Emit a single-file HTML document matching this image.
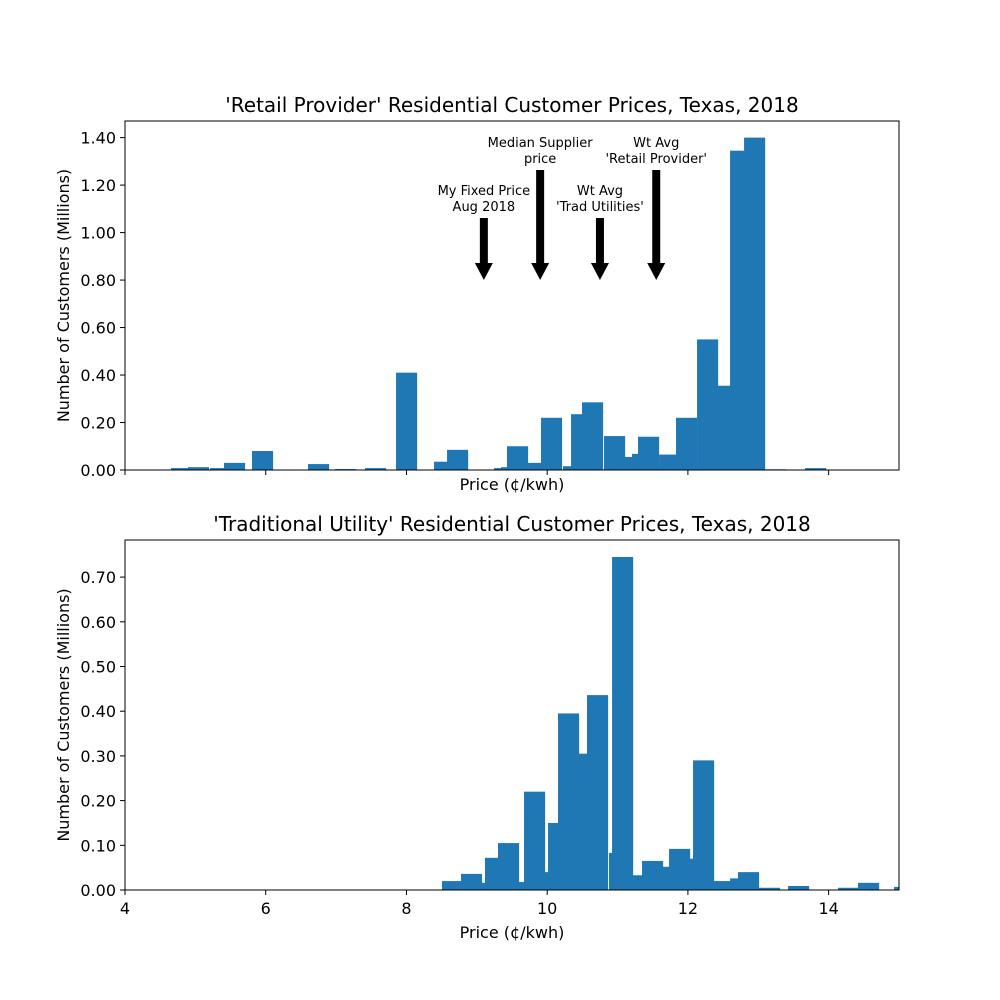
<!DOCTYPE html>
<html><head><meta charset="utf-8"><style>body{margin:0;background:#fff}svg{display:block;font-family:"DejaVu Sans","Liberation Sans",sans-serif}</style></head>
<body>
<svg id="c" width="1000" height="1000"></svg>
<script>
const topPrices=[4.654,4.895,5.208,5.407,5.805,6.601,6.985,7.411,7.852,8.392,8.577,9.245,9.344,9.429,9.728,9.827,9.912,10.225,10.339,10.495,10.808,11.064,11.206,11.291,11.590,11.774,11.831,12.130,12.428,12.599,12.798,13.096,13.665];
const topValues=[0.008,0.012,0.008,0.03,0.08,0.025,0.004,0.008,0.41,0.035,0.085,0.008,0.012,0.10,0.03,0.012,0.22,0.016,0.235,0.285,0.143,0.055,0.068,0.14,0.065,0.04,0.22,0.55,0.355,1.345,1.40,0.003,0.008];
const botPrices=[8.505,8.775,9.074,9.116,9.301,9.600,9.642,9.671,9.969,10.012,10.154,10.325,10.353,10.566,10.879,10.922,11.220,11.348,11.646,11.732,12.030,12.073,12.371,12.599,12.712,13.011,13.423,14.134,14.418,14.93];
const botValues=[0.02,0.036,0.016,0.072,0.105,0.018,0.015,0.22,0.04,0.15,0.395,0.305,0.212,0.436,0.083,0.745,0.033,0.065,0.052,0.092,0.07,0.29,0.02,0.026,0.04,0.005,0.009,0.005,0.016,0.007];
const xTicks=[4,6,8,10,12,14];
const topYTicks=[0,0.2,0.4,0.6,0.8,1.0,1.2,1.4];
const botYTicks=[0,0.1,0.2,0.3,0.4,0.5,0.6,0.7];
const notes=[{x:9.1,lines:["My Fixed Price","Aug 2018"],ty:218},{x:9.9,lines:["Median Supplier","price"],ty:170},{x:10.75,lines:["Wt Avg","'Trad Utilities'"],ty:218},{x:11.55,lines:["Wt Avg","'Retail Provider'"],ty:170}];
const W=0.3;
const svg=document.getElementById('c');const NS='http://www.w3.org/2000/svg';
function mk(t,a,p){const e=document.createElementNS(NS,t);for(const k in a)e.setAttribute(k,a[k]);(p||svg).appendChild(e);return e;}
const X0=125,X1=899;const x=v=>X0+(v-4)/11*(X1-X0);
function panel(name,y0,y1,ymax,prices,vals,yt,title,showX){
  const y=v=>y1-v/ymax*(y1-y0);
  const g=mk('g',{});
  const cp=mk('clipPath',{id:'cp'+name},g);mk('rect',{x:X0,y:y0,width:X1-X0,height:y1-y0},cp);
  const bg=mk('g',{'clip-path':'url(#cp'+name+')'},g);
  prices.forEach((p,i)=>{const r=mk('rect',{x:x(p),y:y(vals[i]),width:x(p+W)-x(p),height:y1-y(vals[i]),fill:'#1f77b4'},bg);
    
    });
  mk('rect',{x:X0,y:y0,width:X1-X0,height:y1-y0,fill:'none',stroke:'#000','stroke-width':1},g);
  xTicks.forEach(t=>{mk('line',{x1:x(t),x2:x(t),y1:y1,y2:y1+5,stroke:'#000'},g);
    if(showX){const tx=mk('text',{x:x(t),y:y1+24,'text-anchor':'middle','font-size':16},g);tx.textContent=t;
      
      }});
  yt.forEach(t=>{mk('line',{x1:X0-5,x2:X0,y1:y(t),y2:y(t),stroke:'#000'},g);
    const tx=mk('text',{x:X0-9,y:y(t)+6,'text-anchor':'end','font-size':16},g);tx.textContent=t.toFixed(2);
    
    });
  const ti=mk('text',{x:(X0+X1)/2,y:y0-9,'text-anchor':'middle','font-size':20},g);ti.textContent=title;
  
  
  const xl=mk('text',{x:(X0+X1)/2,y:y1+(showX?48:20),'text-anchor':'middle','font-size':16},g);xl.textContent='Price (¢/kwh)';
  
  
  const yl=mk('text',{x:0,y:0,'text-anchor':'middle','font-size':16,transform:`translate(69,${(y0+y1)/2}) rotate(-90)`},g);yl.textContent='Number of Customers (Millions)';
  
  
  return y;
}
panel('top-panel',121,470,1.47,topPrices,topValues,topYTicks,"'Retail Provider' Residential Customer Prices, Texas, 2018",false);
panel('bottom-panel',540,890,0.783,botPrices,botValues,botYTicks,"'Traditional Utility' Residential Customer Prices, Texas, 2018",true);
notes.forEach(n=>{const cx=x(n.x);const g=mk('g',{});
  
  
  mk('polygon',{points:`${cx-4},${n.ty} ${cx+4},${n.ty} ${cx+4},${263} ${cx+9},${263} ${cx},${280} ${cx-9},${263} ${cx-4},${263}`,fill:'#000'},g);
  n.lines.forEach((l,i)=>{const t=mk('text',{x:cx,y:n.ty-23+i*16,'text-anchor':'middle','font-size':13},g);t.textContent=l;});});
</script>
</body></html>
